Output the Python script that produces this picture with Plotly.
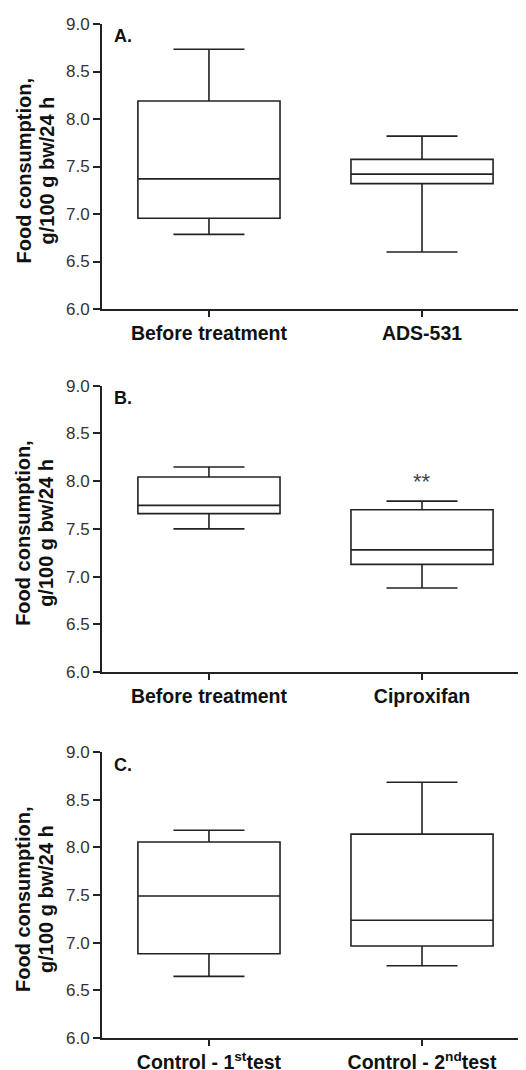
import plotly.graph_objects as go

# ---- data ----
cats_A = ["Before treatment", "ADS-531"]
q1_A = [6.955, 7.32]
med_A = [7.37, 7.42]
q3_A = [8.19, 7.575]
lo_A = [6.785, 6.60]
hi_A = [8.735, 7.82]

cats_B = ["Before treatment", "Ciproxifan"]
q1_B = [7.66, 7.128]
med_B = [7.746, 7.28]
q3_B = [8.043, 7.70]
lo_B = [7.50, 6.88]
hi_B = [8.148, 7.79]

cats_C = ["Control - 1<sup>st</sup>test", "Control - 2<sup>nd</sup>test"]
q1_C = [6.883, 6.964]
med_C = [7.49, 7.234]
q3_C = [8.057, 8.14]
lo_C = [6.645, 6.757]
hi_C = [8.18, 8.685]

panel_letters = ["A.", "B.", "C."]
y_ticks = [6.0, 6.5, 7.0, 7.5, 8.0, 8.5, 9.0]
y_ticktext = ["6.0", "6.5", "7.0", "7.5", "8.0", "8.5", "9.0"]

# page body has an 8px margin, so the figure is sized to end at the window edge
W, H = 518, 1062
FONT = "Liberation Sans, Arial, Helvetica, sans-serif"
LINE = "#222222"

# panel pixel geometry in figure coordinates (top, bottom of plotting area)
panels_px = [(16, 301), (377.7, 664), (744.3, 1029.7)]
x_left_px = 94

fig = go.Figure()
datasets = [
    (cats_A, q1_A, med_A, q3_A, lo_A, hi_A),
    (cats_B, q1_B, med_B, q3_B, lo_B, hi_B),
    (cats_C, q1_C, med_C, q3_C, lo_C, hi_C),
]

for i, (cats, q1, med, q3, lo, hi) in enumerate(datasets):
    ax = "" if i == 0 else str(i + 1)
    fig.add_trace(go.Box(
        x=cats, q1=q1, median=med, q3=q3, lowerfence=lo, upperfence=hi,
        boxpoints=False, width=0.667, whiskerwidth=0.5,
        fillcolor="white", line=dict(color=LINE, width=1.6),
        xaxis="x" + ax, yaxis="y" + ax, showlegend=False, hoverinfo="skip",
    ))
    top, bot = panels_px[i]
    ydom = [1 - bot / H, 1 - top / H]
    fig.update_layout(**{
        "xaxis" + ax: dict(
            domain=[x_left_px / W, 1.0], type="category",
            categoryorder="array", categoryarray=cats,
            range=[-0.502, 1.488], anchor="y" + ax,
            showline=True, linecolor=LINE, linewidth=2,
            ticks="outside", ticklen=6, tickwidth=1.5, tickcolor=LINE,
            tickfont=dict(family=FONT, size=19.5, color="#111111", weight="bold"),
            showgrid=False, zeroline=False, automargin=False, fixedrange=True,
        ),
        "yaxis" + ax: dict(
            domain=ydom, range=[6.0, 9.0], anchor="x" + ax,
            tickvals=y_ticks, ticktext=y_ticktext,
            showline=True, linecolor=LINE, linewidth=2,
            ticks="outside", ticklen=7, tickwidth=1.5, tickcolor=LINE,
            tickfont=dict(family=FONT, size=17, color="#333333"),
            showgrid=False, zeroline=False, automargin=False, fixedrange=True,
        ),
    })
    # panel letter
    fig.add_annotation(
        text="<b>" + panel_letters[i] + "</b>", xref="x" + ax, yref="y" + ax,
        x=-0.453, y=8.87, xanchor="left", yanchor="middle", showarrow=False,
        font=dict(family=FONT, size=18, color="#111111"),
    )
    # y-axis title, two lines
    ymid = 9 - ((top + bot) / 2 + 4 - top) / ((bot - top) / 3.0)
    fig.add_annotation(
        text="<b>Food consumption,</b>", xref="paper", yref="y" + ax,
        x=15 / W, y=ymid, xanchor="center", yanchor="middle", textangle=-90,
        showarrow=False, font=dict(family=FONT, size=20, color="#111111"),
    )
    fig.add_annotation(
        text="<b>g/100 g bw/24 h</b>", xref="paper", yref="y" + ax,
        x=38 / W, y=ymid, xanchor="center", yanchor="middle", textangle=-90,
        showarrow=False, font=dict(family=FONT, size=20, color="#111111"),
    )

# significance marker
fig.add_annotation(
    text="**", xref="x2", yref="y2", x=cats_B[1], y=8.0,
    xanchor="center", yanchor="middle", showarrow=False,
    font=dict(family=FONT, size=22, color="#444444"),
)

fig.update_layout(
    width=W, height=H, margin=dict(l=0, r=0, t=0, b=0),
    paper_bgcolor="white", plot_bgcolor="white",
    font=dict(family=FONT), showlegend=False,
)

fig.write_html("out.html")
